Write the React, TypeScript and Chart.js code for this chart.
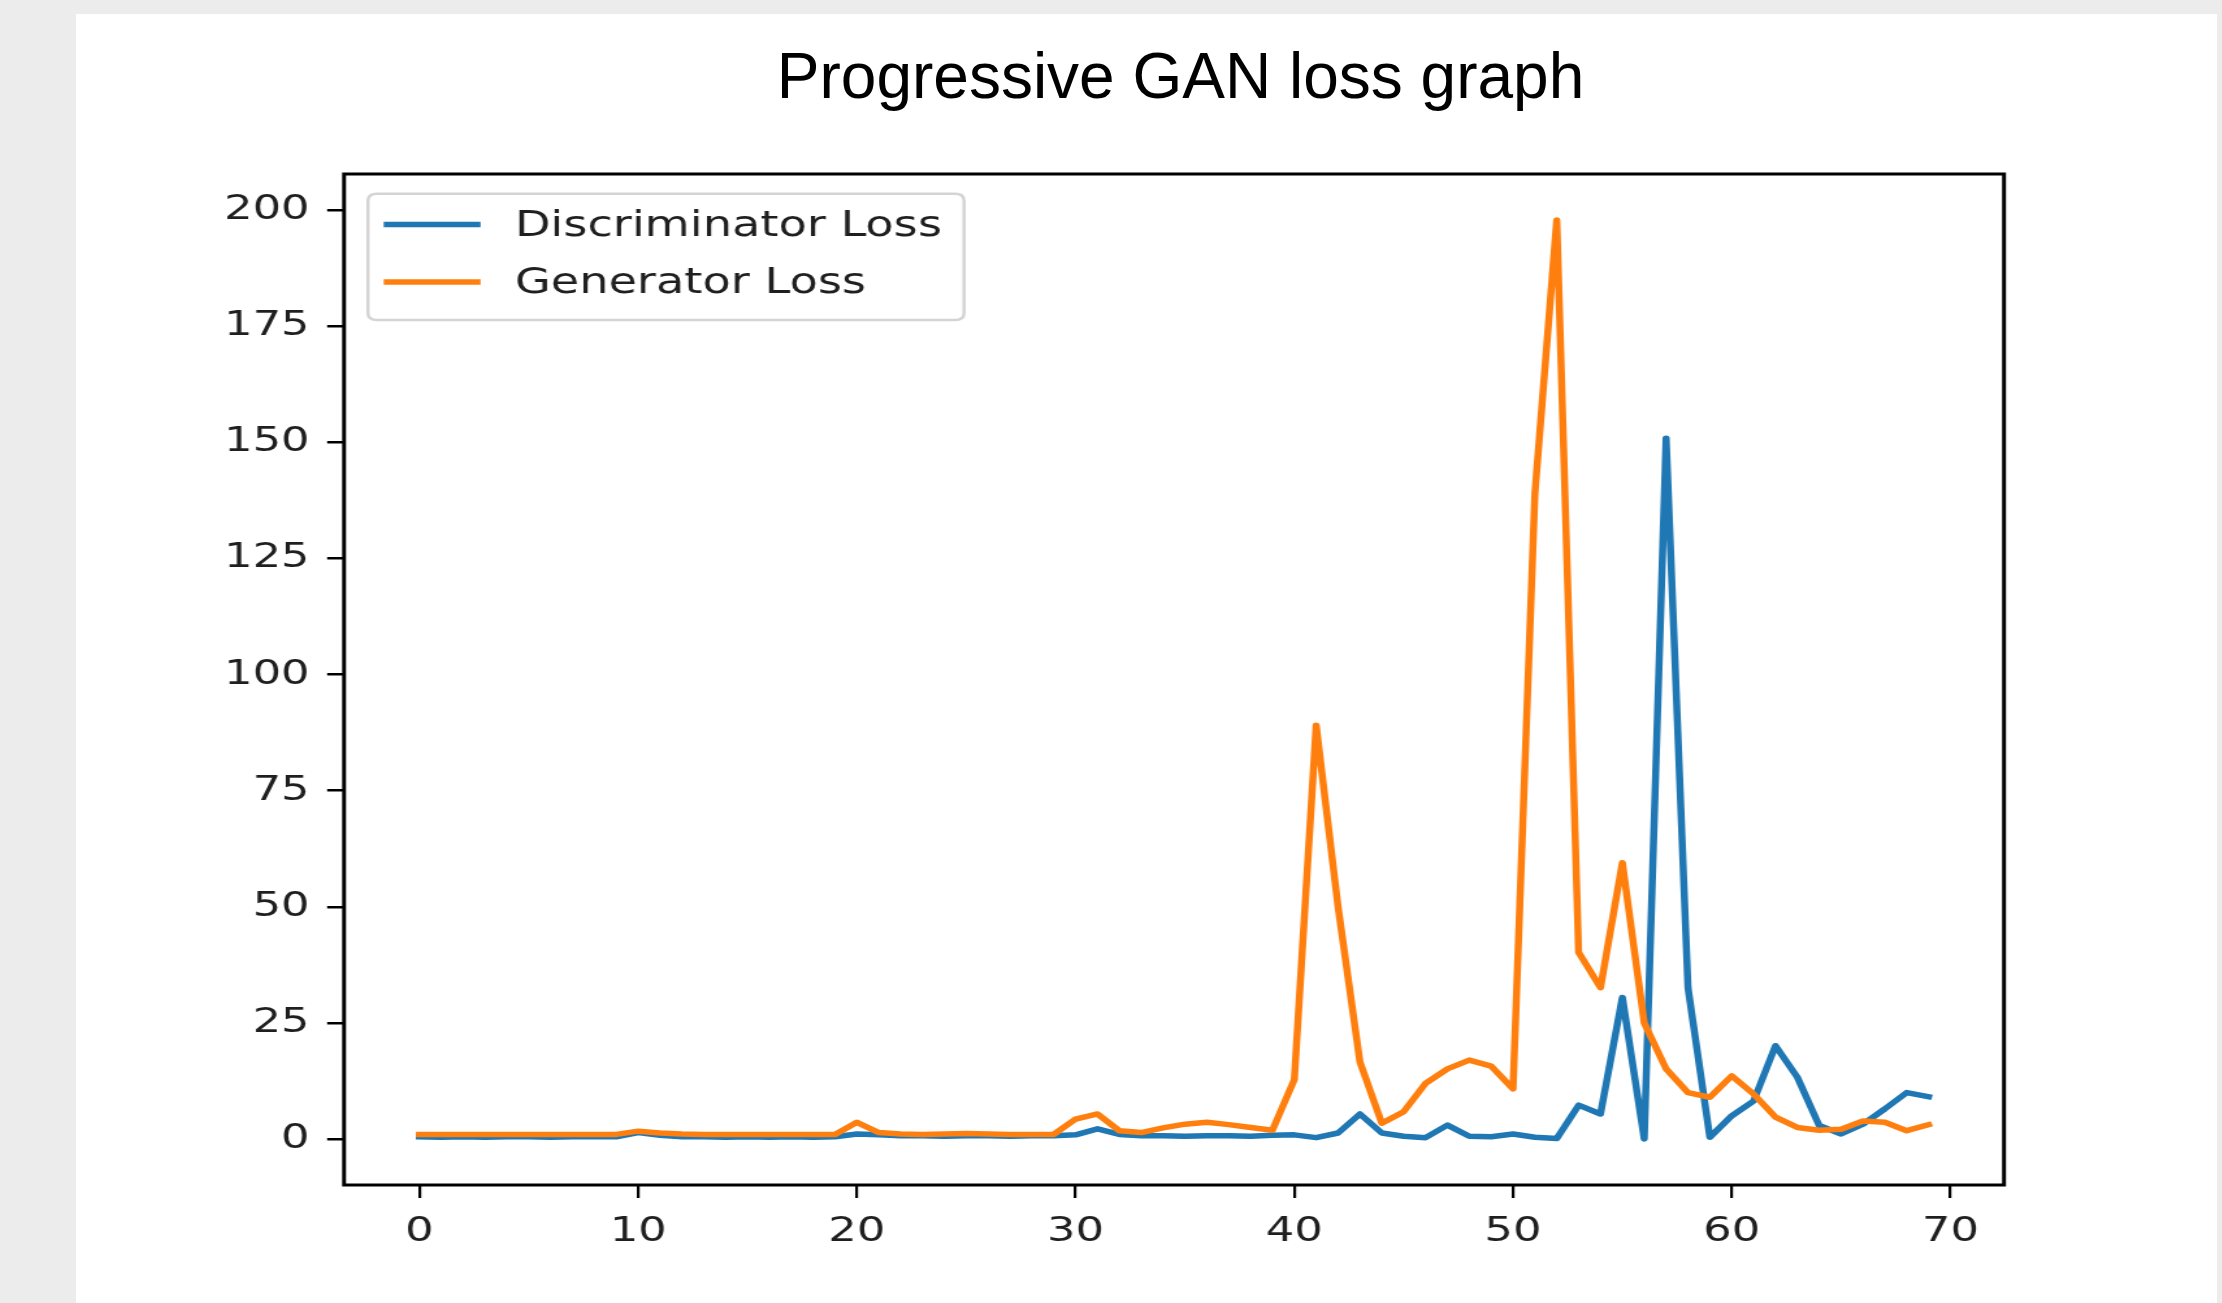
import React, { useEffect, useRef } from 'react';
import { Chart, registerables } from 'chart.js';

Chart.register(...registerables);

// ---------------- data ----------------
const titleText = 'Progressive GAN loss graph';

const epochs = [
  0, 1, 2, 3, 4, 5, 6, 7, 8, 9,
  10, 11, 12, 13, 14, 15, 16, 17, 18, 19,
  20, 21, 22, 23, 24, 25, 26, 27, 28, 29,
  30, 31, 32, 33, 34, 35, 36, 37, 38, 39,
  40, 41, 42, 43, 44, 45, 46, 47, 48, 49,
  50, 51, 52, 53, 54, 55, 56, 57, 58, 59,
  60, 61, 62, 63, 64, 65, 66, 67, 68, 69,
];

const discriminatorLoss = [
  0.5, 0.4, 0.5, 0.4, 0.5, 0.5, 0.4, 0.5, 0.5, 0.5,
  1.4, 0.8, 0.5, 0.5, 0.4, 0.5, 0.4, 0.5, 0.4, 0.5,
  1.1, 0.9, 0.7, 0.7, 0.6, 0.7, 0.7, 0.6, 0.7, 0.7,
  0.9, 2.2, 1.0, 0.7, 0.7, 0.6, 0.7, 0.7, 0.6, 0.8,
  0.9, 0.3, 1.3, 5.4, 1.3, 0.6, 0.3, 3.0, 0.6, 0.5,
  1.1, 0.4, 0.1, 7.3, 5.4, 30.5, 0.0, 150.9, 32.6, 0.4,
  5.0, 8.2, 20.1, 13.3, 2.9, 1.1, 3.2, 6.5, 10.0, 9.1,
];

const generatorLoss = [
  1.0, 1.0, 1.0, 1.0, 1.0, 1.0, 1.0, 1.0, 1.0, 1.0,
  1.7, 1.3, 1.1, 1.0, 1.0, 1.0, 1.0, 1.0, 1.0, 1.0,
  3.6, 1.4, 1.1, 1.0, 1.1, 1.2, 1.1, 1.0, 1.0, 1.0,
  4.3, 5.4, 1.8, 1.4, 2.4, 3.2, 3.6, 3.1, 2.5, 1.9,
  12.8, 89.1, 50.0, 16.6, 3.4, 5.9, 12.0, 15.1, 17.0, 15.7,
  10.8, 139.0, 197.9, 40.2, 32.6, 59.5, 25.0, 15.1, 10.0, 9.0,
  13.6, 9.7, 4.7, 2.5, 1.9, 2.1, 3.9, 3.6, 1.8, 3.1,
];

const seriesNames = ['Discriminator Loss', 'Generator Loss'];
const seriesColors = ['#1f77b4', '#ff7f0e'];

const xTickValues = [0, 10, 20, 30, 40, 50, 60, 70];
const yTickValues = [0, 25, 50, 75, 100, 125, 150, 175, 200];

// ---------------- layout constants ----------------
const STRETCH = 1.3; // the original figure is stretched horizontally
const CANVAS_W = 1420;
const CANVAS_H = 1140;
const FONT_FAMILY = "'DejaVu Sans', 'Noto Sans', sans-serif";
const FONT_SIZE = 34.5;
const LEGEND_FONT_SIZE = 35.6;
const TEXT_COLOR = '#1f1f1f';
const LINE_WIDTH = 5.5;

export default function App() {
  const canvasRef = useRef<HTMLCanvasElement | null>(null);

  useEffect(() => {
    const canvas = canvasRef.current;
    if (!canvas) return;

    const allValues = [...discriminatorLoss, ...generatorLoss];
    const yMinData = Math.min(...allValues);
    const yMaxData = Math.max(...allValues);
    const yMargin = (yMaxData - yMinData) * 0.05;
    const xMinData = epochs[0];
    const xMaxData = epochs[epochs.length - 1];
    const xMargin = (xMaxData - xMinData) * 0.05;

    const framePlugin = {
      id: 'axesFrame',
      afterDatasetsDraw(chart: any) {
        const { ctx, chartArea: a } = chart;
        ctx.save();
        ctx.strokeStyle = '#000';
        ctx.lineWidth = 3;
        ctx.strokeRect(a.left, a.top, a.right - a.left, a.bottom - a.top);
        ctx.restore();
      },
    };

    const legendPlugin = {
      id: 'insideLegend',
      afterDraw(chart: any) {
        const { ctx, chartArea: a } = chart;
        const left = a.left + 18.4;
        const top = a.top + 19.7;
        const w = 458.5;
        const h = 126.3;
        const r = 7;
        ctx.save();
        ctx.beginPath();
        ctx.moveTo(left + r, top);
        ctx.lineTo(left + w - r, top);
        ctx.quadraticCurveTo(left + w, top, left + w, top + r);
        ctx.lineTo(left + w, top + h - r);
        ctx.quadraticCurveTo(left + w, top + h, left + w - r, top + h);
        ctx.lineTo(left + r, top + h);
        ctx.quadraticCurveTo(left, top + h, left, top + h - r);
        ctx.lineTo(left, top + r);
        ctx.quadraticCurveTo(left, top, left + r, top);
        ctx.closePath();
        ctx.fillStyle = 'rgba(255,255,255,0.8)';
        ctx.fill();
        ctx.strokeStyle = '#d4d4d4';
        ctx.lineWidth = 2.5;
        ctx.stroke();

        const rowY = [top + 30.8, top + 88.3];
        chart.data.datasets.forEach((ds: any, i: number) => {
          const y = rowY[i];
          ctx.beginPath();
          ctx.strokeStyle = ds.borderColor;
          ctx.lineWidth = LINE_WIDTH;
          ctx.lineCap = 'butt';
          ctx.moveTo(a.left + 30.5, y);
          ctx.lineTo(a.left + 105, y);
          ctx.stroke();
          ctx.fillStyle = TEXT_COLOR;
          ctx.font = `${LEGEND_FONT_SIZE}px ${FONT_FAMILY}`;
          ctx.textAlign = 'left';
          ctx.textBaseline = 'middle';
          ctx.fillText(ds.label, a.left + 131.4, y + 2);
        });
        ctx.restore();
      },
    };

    const tickFont = { family: FONT_FAMILY, size: FONT_SIZE };

    const chart = new Chart(canvas, {
      type: 'line',
      data: {
        datasets: [
          {
            label: seriesNames[0],
            data: epochs.map((e, i) => ({ x: e, y: discriminatorLoss[i] })),
            borderColor: seriesColors[0],
            backgroundColor: seriesColors[0],
            borderWidth: LINE_WIDTH,
            pointRadius: 0,
            tension: 0,
            fill: false,
            borderJoinStyle: 'round',
            borderCapStyle: 'square',
            order: 1,
          },
          {
            label: seriesNames[1],
            data: epochs.map((e, i) => ({ x: e, y: generatorLoss[i] })),
            borderColor: seriesColors[1],
            backgroundColor: seriesColors[1],
            borderWidth: LINE_WIDTH,
            pointRadius: 0,
            tension: 0,
            fill: false,
            borderJoinStyle: 'round',
            borderCapStyle: 'square',
            order: 0,
          },
        ],
      },
      options: {
        responsive: false,
        maintainAspectRatio: false,
        animation: false,
        devicePixelRatio: 1,
        layout: { padding: { left: 0, top: 24, right: 32.3, bottom: 0 } },
        plugins: {
          legend: { display: false },
          tooltip: { enabled: false },
          title: { display: false },
        },
        scales: {
          x: {
            type: 'linear',
            bounds: 'data',
            min: xMinData - xMargin,
            max: xMaxData + xMargin,
            afterBuildTicks: (scale: any) => {
              scale.ticks = xTickValues.map((v) => ({ value: v }));
            },
            afterFit: (scale: any) => {
              scale.height = 105;
              scale.paddingLeft = 0;
              scale.paddingRight = 0;
              scale.paddingTop = 0;
              scale.paddingBottom = 0;
            },
            grid: {
              display: true,
              drawOnChartArea: false,
              drawTicks: true,
              tickLength: 13,
              color: '#000',
              tickColor: '#000',
              lineWidth: 2.2,
              tickWidth: 2.2,
            },
            border: { display: false },
            ticks: {
              font: tickFont,
              color: TEXT_COLOR,
              padding: 13,
              autoSkip: false,
              maxRotation: 0,
              minRotation: 0,
              callback: (v: any) => String(v),
            },
          },
          y: {
            type: 'linear',
            bounds: 'data',
            min: yMinData - yMargin,
            max: yMaxData + yMargin,
            afterBuildTicks: (scale: any) => {
              scale.ticks = yTickValues.map((v) => ({ value: v }));
            },
            afterFit: (scale: any) => {
              scale.width = 110.8;
              scale.paddingLeft = 0;
              scale.paddingRight = 0;
              scale.paddingTop = 0;
              scale.paddingBottom = 0;
            },
            grid: {
              display: true,
              drawOnChartArea: false,
              drawTicks: true,
              tickLength: 13,
              color: '#000',
              tickColor: '#000',
              lineWidth: 2.5,
              tickWidth: 2.5,
            },
            border: { display: false },
            ticks: {
              font: tickFont,
              color: TEXT_COLOR,
              padding: 13.5,
              autoSkip: false,
              callback: (v: any) => String(v),
            },
          },
        },
      } as any,
      plugins: [framePlugin, legendPlugin],
    });

    return () => {
      chart.destroy();
    };
  }, []);

  return (
    <div
      style={{
        position: 'fixed',
        left: 0,
        top: 0,
        width: 2222,
        height: 1303,
        background: '#ececec',
        overflow: 'hidden',
      }}
    >
      <div
        style={{
          position: 'absolute',
          left: 76,
          top: 14,
          width: 2141,
          height: 1289,
          background: '#ffffff',
        }}
      />
      <div
        style={{
          position: 'absolute',
          left: 180.5,
          top: 44,
          width: 2000,
          textAlign: 'center',
          fontFamily: "'Liberation Sans', Arial, sans-serif",
          fontSize: 64,
          lineHeight: 1,
          color: '#000',
          whiteSpace: 'nowrap',
        }}
      >
        {titleText}
      </div>
      <canvas
        ref={canvasRef}
        width={CANVAS_W}
        height={CANVAS_H}
        style={{
          position: 'absolute',
          left: 200,
          top: 150,
          width: CANVAS_W * STRETCH,
          height: CANVAS_H,
        }}
      />
    </div>
  );
}
